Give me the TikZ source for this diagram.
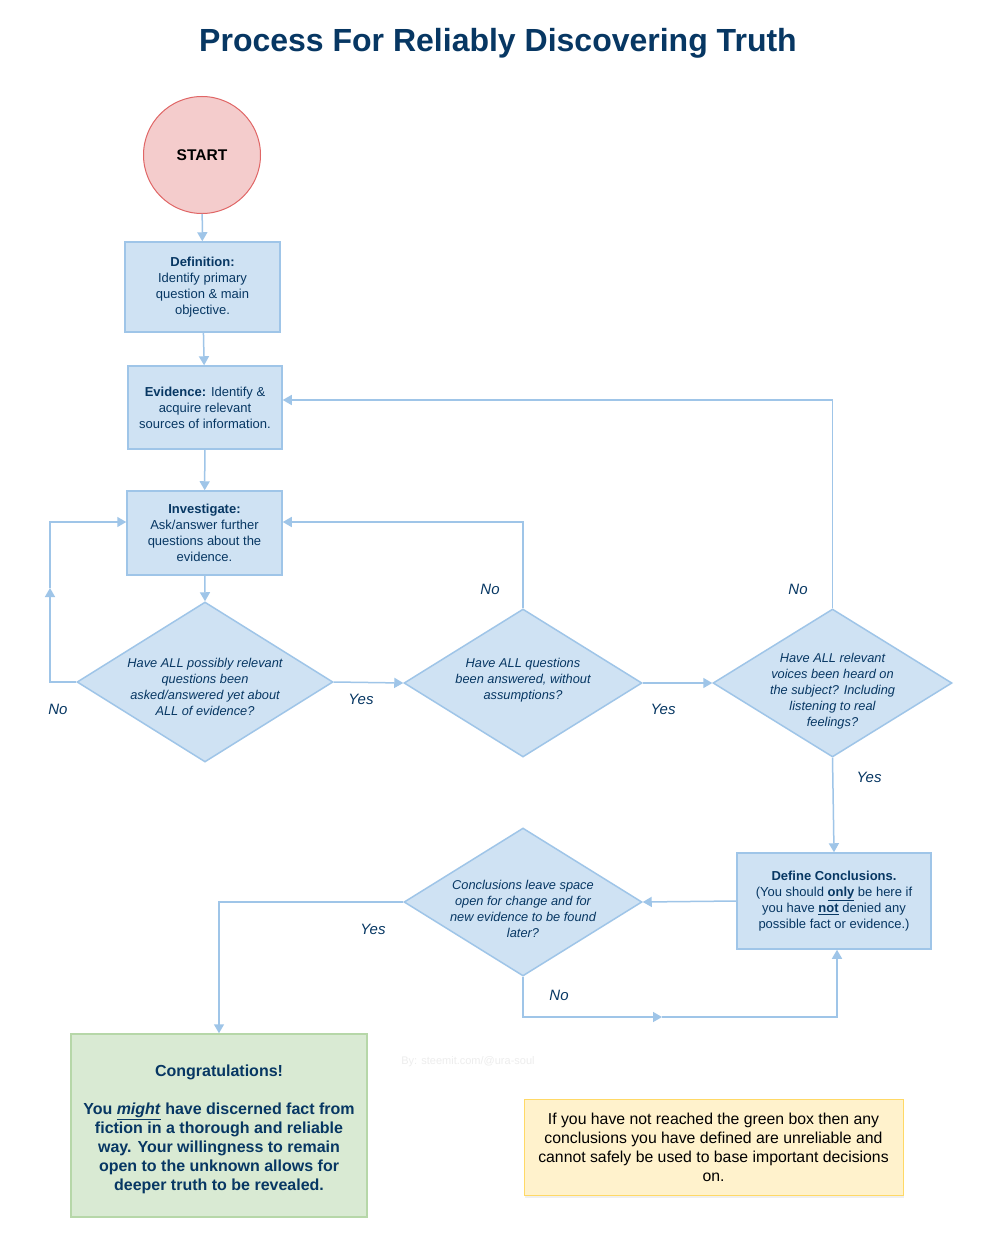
\documentclass[tikz,border=0pt]{standalone}
\usepackage{fontspec}
\setmainfont{Liberation Sans}
\usetikzlibrary{shapes.geometric,arrows.meta,shadows}

\definecolor{navy}{HTML}{073763}
\definecolor{boxfill}{HTML}{CFE2F3}
\definecolor{boxline}{HTML}{9FC5E8}
\definecolor{startfill}{HTML}{F4CCCC}
\definecolor{startline}{HTML}{E06666}
\definecolor{greenfill}{HTML}{D9EAD3}
\definecolor{greenline}{HTML}{B6D7A8}
\definecolor{notefill}{HTML}{FFF2CC}
\definecolor{noteline}{HTML}{FFD966}

\tikzset{
  stepbox/.style={draw=boxline, fill=boxfill, line width=1.5pt, text=navy,
    align=center, inner sep=0pt, font=\fontsize{13}{16}\selectfont},
  query/.style={diamond, draw=boxline, fill=boxfill, line width=1.5pt, inner sep=0pt},
  querytext/.style={text=navy, align=center, inner sep=0pt,
    font=\fontsize{12.8}{16}\selectfont\itshape},
  answer/.style={text=navy, font=\fontsize{15}{18}\selectfont\itshape},
  tip/.style={-{Triangle[width=10pt,length=9pt]}, draw=boxline, line width=1.5pt},
}

\begin{document}
\begin{tikzpicture}[x=1pt,y=-1pt]
\useasboundingbox (0,0) rectangle (988,1241);
\fill[white] (0,0) rectangle (988,1241);

\node[text=navy, font=\fontsize{32}{36}\selectfont\bfseries] (title) at (498,43)
  {Process For Reliably Discovering Truth};

\node[circle, draw=startline, fill=startfill, line width=1pt, minimum size=117pt,
  font=\fontsize{15.5}{18}\selectfont\bfseries] (start) at (202,155) {START};

\node[stepbox, minimum width=155pt, minimum height=90pt] (define) at (202.5,287)
  {\textbf{Definition:}\\Identify primary\\question \& main\\objective.};
\node[stepbox, minimum width=154pt, minimum height=83pt] (evidence) at (205,407.5)
  {\textbf{Evidence:} Identify \&\\acquire relevant\\sources of information.};
\node[stepbox, minimum width=155pt, minimum height=84pt] (investigate) at (204.5,533)
  {\textbf{Investigate:}\\Ask/answer further\\questions about the\\evidence.};

\node[query, minimum width=256pt, minimum height=160pt] (q1) at (205,682) {};
\node[querytext] (q1t) at (205,687) {Have ALL possibly relevant\\questions been\\asked/answered yet about\\ALL of evidence?};
\node[query, minimum width=238pt, minimum height=148pt] (q2) at (523,683) {};
\node[querytext] (q2t) at (523,680) {Have ALL questions\\been answered, without\\assumptions?};
\node[query, minimum width=239pt, minimum height=148pt] (q3) at (832.5,683) {};
\node[querytext] (q3t) at (832.5,691) {Have ALL relevant\\voices been heard on\\the subject? Including\\listening to real\\feelings?};

\node[stepbox, minimum width=194pt, minimum height=96pt] (conclude) at (834,901)
  {\textbf{Define Conclusions.}\\(You should \underline{\textbf{only}} be here if\\you have \underline{\textbf{not}} denied any\\possible fact or evidence.)};
\node[query, minimum width=238pt, minimum height=148pt] (q4) at (523,902) {};
\node[querytext] (q4t) at (523,909) {Conclusions leave space\\open for change and for\\new evidence to be found\\later?};

\node[draw=greenline, fill=greenfill, line width=1.5pt,
  minimum width=296pt, minimum height=183pt] (congrats) at (219,1125.5) {};
\node[text=navy, align=center, font=\fontsize{16}{19}\selectfont\bfseries] (congratstext) at (219,1129)
  {Congratulations!\\[19pt]You \underline{\textit{might}} have discerned fact from\\fiction in a thorough and reliable\\way. Your willingness to remain\\open to the unknown allows for\\deeper truth to be revealed.};

\node[draw=noteline, fill=notefill, line width=1pt, align=center,
  minimum width=379pt, minimum height=96pt,
  drop shadow={opacity=0.12, shadow xshift=1pt, shadow yshift=-3pt},
  font=\fontsize{15.8}{19}\selectfont] (note) at (713.5,1147)
  {If you have not reached the green box then any\\conclusions you have defined are unreliable and\\cannot safely be used to base important decisions\\on.};

\node[text=black!7, font=\fontsize{11}{13}\selectfont] (credit) at (468,1062) {By: steemit.com/@ura-soul};

% main line
\draw[tip] (start) -- (define);
\draw[tip] (define) -- (evidence);
\draw[tip] (evidence) -- (investigate);
\draw[tip] (investigate) -- (q1.north);
\draw[tip] (q1.east) -- (q2.west);
\draw[tip] (q2.east) -- (q3.west);
\draw[tip] (q3.south) -- (conclude.north);
\draw[tip] (conclude.west) -- (q4.east);

% loops back
\coordinate (upmid) at (50,588);
\draw[tip] (q1.west) -| (upmid);
\draw[tip] (upmid) |- (investigate.west |- 0,522);
\draw[tip] (q2.north) |- (investigate.east |- 0,522);
\draw[tip] (q3.north) |- (evidence.east |- 0,400);
\coordinate (rightmid) at (662,1017);
\draw[tip] (q4.south) |- (rightmid);
\draw[tip] (rightmid) -| ([xshift=3pt]conclude.south);
\draw[tip] (q4.west) -| (congrats.north);

\node[answer] (no1) at (58,709) {No};
\node[answer] (yes1) at (361,699) {Yes};
\node[answer] (no2) at (490,589) {No};
\node[answer] (yes2) at (663,709) {Yes};
\node[answer] (no3) at (798,589) {No};
\node[answer] (yes3) at (869,777) {Yes};
\node[answer] (no4) at (559,995) {No};
\node[answer] (yes4) at (373,929) {Yes};
\end{tikzpicture}
\end{document}
